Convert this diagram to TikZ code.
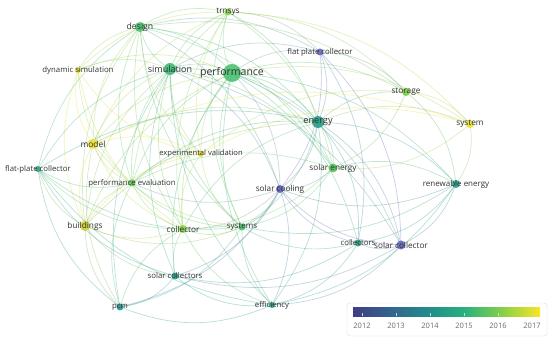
\documentclass[tikz,border=0pt]{standalone}
\usepackage{fontspec}
\setmainfont{Open Sans}
\usetikzlibrary{backgrounds}

\definecolor{lbltext}{RGB}{50,50,50}
\definecolor{yrtext}{RGB}{105,105,105}
\definecolor{boxline}{RGB}{222,222,222}
\definecolor{v0}{RGB}{62,62,132}
\definecolor{v1}{RGB}{52,100,142}
\definecolor{v2}{RGB}{33,140,140}
\definecolor{v3}{RGB}{40,178,124}
\definecolor{v4}{RGB}{135,208,72}
\definecolor{v5}{RGB}{250,230,35}
% node colours (by average year)
\definecolor{cperf}{RGB}{76,194,114}
\definecolor{cdes}{RGB}{76,192,110}
\definecolor{ctrn}{RGB}{130,208,78}
\definecolor{csim}{RGB}{62,186,118}
\definecolor{cdyn}{RGB}{232,224,48}
\definecolor{cfpc}{RGB}{105,105,192}
\definecolor{csto}{RGB}{122,204,72}
\definecolor{csys}{RGB}{236,224,40}
\definecolor{cene}{RGB}{40,160,136}
\definecolor{cmod}{RGB}{234,224,46}
\definecolor{cexv}{RGB}{230,220,50}
\definecolor{cfpl}{RGB}{45,170,130}
\definecolor{cpev}{RGB}{100,200,90}
\definecolor{csen}{RGB}{88,196,96}
\definecolor{csco}{RGB}{98,96,186}
\definecolor{cren}{RGB}{40,162,136}
\definecolor{cbui}{RGB}{205,210,50}
\definecolor{ccol}{RGB}{140,210,70}
\definecolor{csyss}{RGB}{72,190,108}
\definecolor{ccols}{RGB}{40,160,138}
\definecolor{cscl}{RGB}{102,100,190}
\definecolor{cscs}{RGB}{40,155,140}
\definecolor{cpcm}{RGB}{40,150,150}
\definecolor{ceff}{RGB}{40,160,140}

\pgfdeclarehorizontalshading{viridisbar}{100bp}{color(0bp)=(v0); color(25bp)=(v0); color(35bp)=(v1); color(45bp)=(v2); color(55bp)=(v3); color(65bp)=(v4); color(75bp)=(v5); color(100bp)=(v5)}

\begin{document}
\begin{tikzpicture}[x=1pt,y=-1pt,
  dot/.style={circle,inner sep=0pt,fill opacity=0.9},
  lbl/.style={text=lbltext,inner sep=0pt},
  link/.style={line width=0.7pt,draw opacity=0.33},
  yr/.style={text=yrtext,font=\fontsize{7.5}{8}\selectfont,inner sep=0pt}]
  \useasboundingbox (0,0) rectangle (550,337);
  % keywords
  \foreach \n/\x/\y/\d/\f/\t in {
      perf/232/73/18/10.5/performance, des/140/27/10/8.7/design,
      trn/228/12/7/8.2/trnsys, sim/170/69/12/9/simulation,
      dyn/78/70/6/7.8/dynamic simulation, fpc/320/52/7/7.8/flat plate collector,
      sto/406/92/8/8.3/storage, sys/470/124/8/8.3/system,
      ene/318/122/12/9.2/energy, mod/93/144/10/8.4/model,
      exv/201/154/6/7.6/experimental validation, fpl/38/169/6/7.8/flat-plate collector,
      pev/132/183/7/7.8/performance evaluation, sen/333/168/9/8.2/solar energy,
      sco/280/189/8/8.2/solar cooling, ren/456/184/8/8/renewable energy,
      bui/85/226/10/8.3/buildings, col/183/229/8/8.2/collector,
      syss/242/227/7/8/systems, cols/358/243/7/7.8/collectors,
      scl/401/245/9/8.2/solar collector, scs/175/276/7/7.8/solar collectors,
      pcm/120/307/7/7.8/pcm, eff/272/305/6/7.8/efficiency}
    \node[dot,fill=c\n,minimum size=\d pt,
      label={[lbl,font=\fontsize{\f}{\f}\selectfont]center:\t}] (\n) at (\x,\y) {};
  % co-occurrence links
  \begin{scope}[on background layer]
    \fill[white] (0,0) rectangle (550,337);
    \foreach \a/\b in {
        trn/perf, perf/des, perf/sim, perf/dyn, perf/mod, perf/exv, perf/pev,
        perf/bui, perf/col, perf/scs, perf/syss, perf/eff, sco/perf, cols/perf,
        scl/perf, ren/perf, sen/perf, sys/perf, sto/perf, ene/perf, fpc/perf,
        trn/des, trn/sim, trn/dyn, trn/mod, trn/pev, trn/col, trn/exv,
        sto/trn, ene/trn, fpc/trn, sys/trn, sen/trn, trn/syss,
        des/sim, des/dyn, des/mod, des/fpl, des/pev, des/bui, des/col, des/exv,
        ene/des, fpc/des, sto/des, sen/des, des/syss, sco/des,
        sim/dyn, sim/mod, sim/fpl, sim/pev, sim/bui, sim/col, sim/pcm, sim/scs, sim/syss,
        sim/exv, ene/sim, fpc/sim, sen/sim, scl/sim, sco/sim, sim/eff,
        dyn/mod, dyn/pev, dyn/bui, dyn/col, dyn/exv,
        mod/pev, mod/bui, mod/col, exv/mod, mod/syss, mod/pcm, ene/mod, sys/mod,
        exv/pev, exv/bui, exv/col, exv/syss, sys/exv, sto/exv,
        fpl/pev, fpl/bui, fpl/col, fpl/pcm, fpl/scs, fpl/syss, fpl/eff, ene/fpl,
        pev/bui, pev/col, pev/pcm, pev/syss, sen/pev, ene/pev, pev/sco,
        bui/col, bui/pcm, bui/syss, bui/scs, ene/bui,
        col/pcm, col/scs, col/syss, col/eff, col/sco, col/sen, ene/col,
        pcm/scs, pcm/eff, pcm/syss, pcm/sco,
        scs/eff, scs/sco, scs/cols, scs/scl,
        syss/eff, syss/sco, syss/cols, syss/ren, syss/sen, syss/ene,
        eff/sco, eff/cols, eff/scl, eff/ren, eff/ene,
        sco/cols, sco/scl, sco/ren, sco/sen, sco/ene, sco/fpc,
        cols/scl, cols/ren, cols/ene, cols/fpc,
        scl/ren, scl/ene, scl/fpc,
        ren/sen, ren/sys, ren/sto, ren/ene,
        sen/sys, sen/sto, sen/ene, sys/sto, sys/ene, sto/ene, sto/fpc, ene/fpc}
      \draw[link,draw=c\a!50!c\b] (\a.center) to[bend right=22] (\b.center);
  \end{scope}
  % year legend
  \draw[boxline,fill=white,rounded corners=3pt] (347,303) rectangle (547,336);
  \shade[shading=viridisbar] (353,307) rectangle (540,316);
  \foreach \yy [count=\i from 0] in {2012,...,2017} {
    \draw[white!65!gray] ({362+34*\i},316) -- +(0,-3);
    \node[yr] (y\yy) at ({362+34*\i},326) {\yy};
  }
\end{tikzpicture}
\end{document}
